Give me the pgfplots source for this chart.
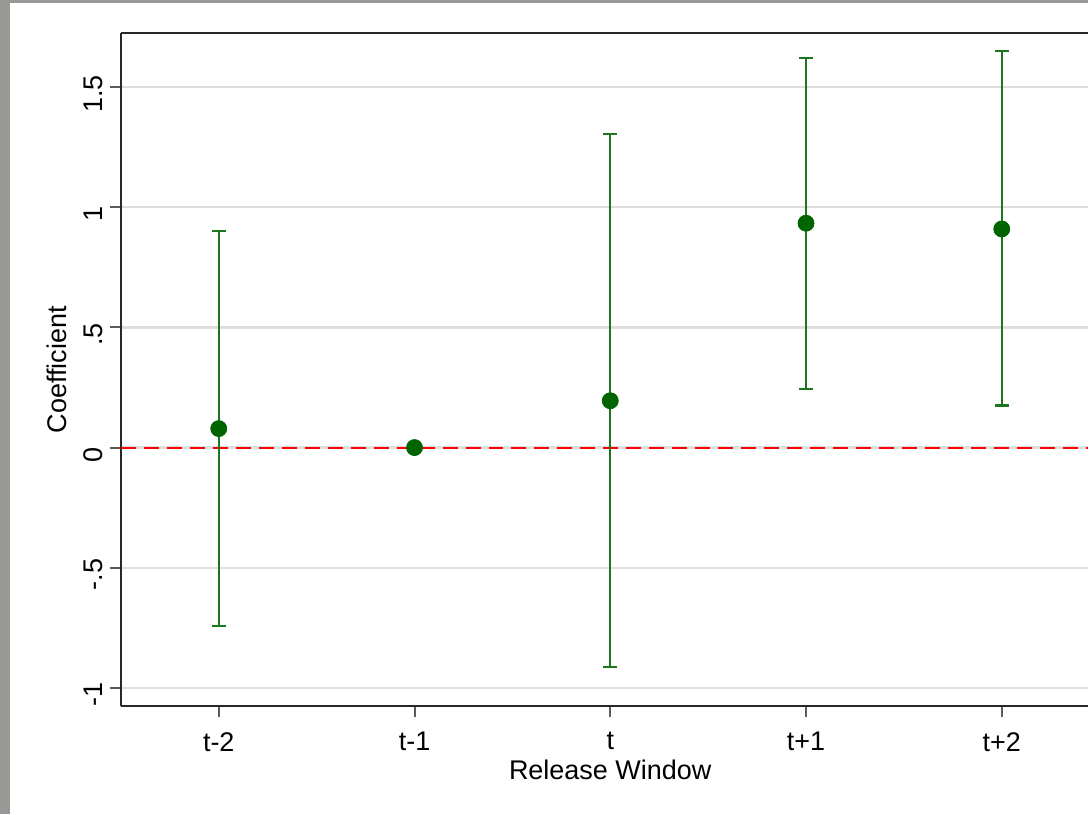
\documentclass[border=0pt]{standalone}
\usepackage{fontspec}
\setmainfont{Liberation Sans}
\usepackage{pgfplots}
\usepackage{pgfplotstable}
\pgfplotsset{compat=1.18}

\definecolor{framegray}{RGB}{40,40,40}
\definecolor{tickgray}{RGB}{90,90,90}
\definecolor{gridgray}{RGB}{222,222,222}
\definecolor{bordergray}{RGB}{152,152,148}
\definecolor{ptgreen}{RGB}{0,100,0}
\definecolor{bargreen}{RGB}{28,118,28}
\definecolor{refred}{RGB}{255,0,0}

% event-time coefficients with the half-widths of their confidence intervals
\pgfplotstableread{
x  y      ep     em
1  0.079  0.823  0.823
3  0.195  1.111  1.110
4  0.934  0.688  0.689
5  0.910  0.742  0.735
}\cis
\pgfplotstableread{
x  y
1  0.079
2  0.000
3  0.195
4  0.934
5  0.910
}\coefs

\begin{document}
\begin{tikzpicture}
\fill[bordergray] (0,0) rectangle (544.5pt,407.5pt);
\fill[white] (5pt,0) rectangle (544.5pt,406pt);
\begin{axis}[
  at={(60.5pt,54pt)}, anchor=south west,
  scale only axis, width=484pt, height=337pt,
  xmin=0.5, xmax=5.44, ymin=-1.077, ymax=1.726,
  axis x line*=bottom, axis y line*=left,
  axis line style={framegray, line width=1.1pt},
  tick align=outside, major tick length=5.5pt,
  tick style={tickgray, line width=1pt},
  xtick={1,2,3,4,5},
  xticklabels={t-2,t-1,t,t+1,t+2},
  ytick={-1,-0.5,0,0.5,1,1.5},
  yticklabels={-1,-.5,0,.5,1,1.5},
  ticklabel style={font=\fontsize{13.5}{16}\selectfont, text=black},
  /pgf/number format/assume math mode=true,
  yticklabel style={rotate=90, anchor=south, xshift=-3.5pt},
  xticklabel style={yshift=-4pt},
  ymajorgrids, major grid style={gridgray, line width=1.1pt},
  xlabel={Release Window}, ylabel={Coefficient},
  label style={font=\fontsize{13.5}{16}\selectfont},
  xlabel style={at={(axis description cs:0.506,0)}, anchor=north, yshift=-23.5pt},
  ylabel style={at={(axis description cs:0,0.5)}, anchor=south, yshift=23.5pt},
  clip=false,
]
\draw[framegray, line width=1.1pt] (rel axis cs:0,1) -- (rel axis cs:1,1);
\addplot[refred, line width=1pt, dash pattern=on 7.5pt off 4pt]
  coordinates {(0.5,0) (5.44,0)};
\addplot[draw=none, mark=none,
  error bars/.cd, y dir=both, y explicit,
  error bar style={bargreen, line width=1.1pt},
  error mark options={rotate=90, mark size=3.5pt, bargreen, line width=1.1pt}]
  table[x=x, y=y, y error plus=ep, y error minus=em] {\cis};
\addplot[only marks, mark=*, mark size=4pt, ptgreen, mark options={fill=ptgreen, draw=ptgreen}]
  table[x=x, y=y] {\coefs};
\end{axis}
\end{tikzpicture}
\end{document}
